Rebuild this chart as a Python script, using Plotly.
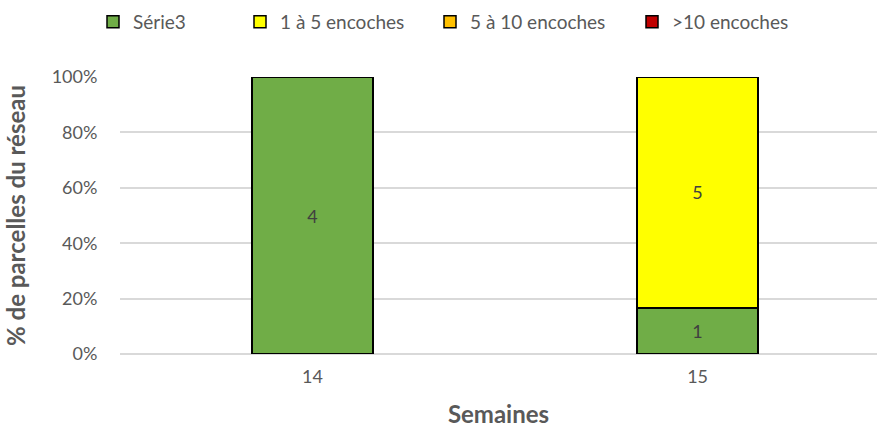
import plotly.graph_objects as go

semaines = ["14", "15"]
serie3 = [4, 1]
enc_1_5 = [0, 5]
enc_5_10 = [0, 0]
enc_10p = [0, 0]
y_ticks = [0, 20, 40, 60, 80, 100]
y_ticktext = ["0%", "20%", "40%", "60%", "80%", "100%"]

series = [
    ("Série3", serie3, "#70AD47"),
    ("1 à 5 encoches", enc_1_5, "#FFFF00"),
    ("5 à 10 encoches", enc_5_10, "#FFC000"),
    (">10 encoches", enc_10p, "#C00000"),
]
legend_ids = ["legend", "legend2", "legend3", "legend4"]
legend_x = [93, 240, 430, 632]

font = "Lato, 'Open Sans', sans-serif"
fig = go.Figure()
for (name, vals, col), lid in zip(series, legend_ids):
    fig.add_trace(go.Bar(
        x=semaines, y=vals, name=name, legend=lid,
        marker=dict(color=col, line=dict(color="#000000", width=1.5)),
        text=[str(v) if v else "" for v in vals],
        textposition="inside", insidetextanchor="middle",
        textfont=dict(color="#404040", size=18, family=font),
        width=0.314,
    ))

legend_common = dict(orientation="h", xanchor="left", xref="container",
                     y=1 - 3 / 444, yref="container", yanchor="top",
                     font=dict(size=19, color="#595959"), itemclick=False,
                     itemdoubleclick=False, itemwidth=30)
layout_legends = {lid: dict(x=lx / 877, **legend_common)
                  for lid, lx in zip(legend_ids, legend_x)}

fig.update_layout(
    barmode="stack", barnorm="percent",
    width=877, height=444,
    margin=dict(l=120, r=0, t=77, b=90),
    paper_bgcolor="white", plot_bgcolor="white",
    font=dict(family=font, color="#595959", size=18),
    showlegend=True,
    **layout_legends,
)
fig.update_xaxes(
    type="category", range=[-0.5, 1.466], showgrid=False, showline=False,
    ticks="outside", ticklen=6, tickcolor="rgba(0,0,0,0)",
    tickfont=dict(size=18, color="#595959"),
    title=dict(text="<b>Semaines</b>", font=dict(size=24, color="#595959"), standoff=20),
)
fig.update_yaxes(
    range=[0, 100], tickvals=y_ticks, ticktext=y_ticktext,
    showgrid=True, gridcolor="#D9D9D9", gridwidth=1.5,
    zeroline=True, zerolinecolor="#D9D9D9", zerolinewidth=1.5,
    ticks="outside", ticklen=18, tickcolor="rgba(0,0,0,0)",
    tickfont=dict(size=18, color="#595959"),
    title=dict(text="<b>% de parcelles du réseau</b>", font=dict(size=24, color="#595959"), standoff=19),
)
fig.write_html("out.html", config={"displayModeBar": False},
               post_script="document.body.style.margin='0px';")
